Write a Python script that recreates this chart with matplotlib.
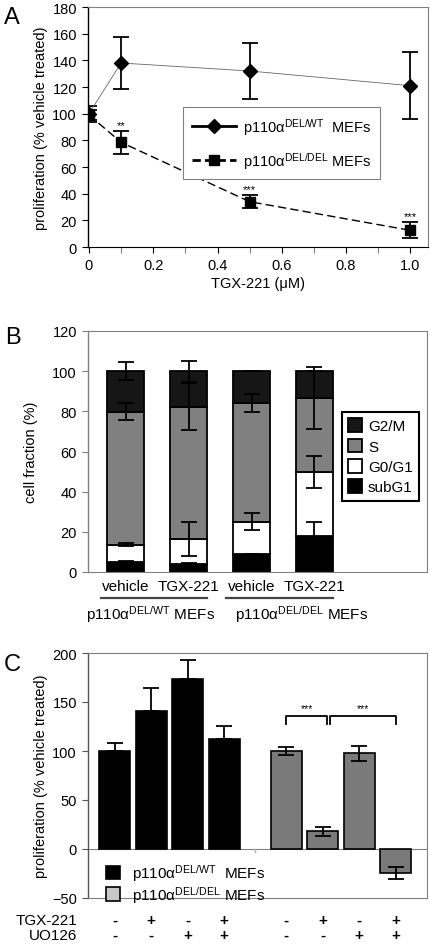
import matplotlib
matplotlib.use("Agg")
import matplotlib.pyplot as plt
import matplotlib.transforms as mtransforms
from matplotlib.lines import Line2D
from matplotlib.patches import Patch
import numpy as np

plt.rcParams['font.family'] = ['Liberation Sans', 'DejaVu Sans']
plt.rcParams['font.size'] = 10.5
plt.rcParams['mathtext.fontset'] = 'custom'
plt.rcParams['mathtext.rm'] = 'Liberation Sans'
plt.rcParams['mathtext.it'] = 'Liberation Sans:italic'

WT = r'p110α$^{\mathrm{DEL/WT}}$'
DD = r'p110α$^{\mathrm{DEL/DEL}}$'

# --- panel A data
doseA = [0, 0.1, 0.5, 1.0]
wtA = [100, 138, 132, 121]
wtA_err = [6, 19.5, 21, 25]
delA = [99, 78.5, 34, 12.5]
delA_err = [4, 8.5, 5, 6]
delA_sig = ['', '**', '***', '***']

# --- panel B data
groupsB = ['vehicle', 'TGX-221', 'vehicle', 'TGX-221']
phases = ['subG1', 'G0/G1', 'S', 'G2/M']
subG1 = [5.0, 4.1, 9.0, 17.9]
g0g1 = [8.6, 12.3, 16.0, 31.9]
s_ph = [66.3, 65.9, 59.2, 36.8]
g2m = [20.1, 17.7, 15.8, 13.4]
subG1_err = [0.4, 0.4, 0.0, 7.0]
g0g1_err = [0.6, 8.3, 4.2, 7.9]
s_err = [4.3, 11.8, 4.4, 15.3]
g2m_err = [4.5, 5.2, 0.0, 0.0]
phase_colors = ['black', 'white', '#808080', '#161616']

# --- panel C data
tgx = ['-', '+', '-', '+', '-', '+', '-', '+']
uo = ['-', '-', '+', '+', '-', '-', '+', '+']
wtC = [100, 141, 173.5, 112]
wtC_err = [8.5, 23, 19.5, 13.5]
delC = [100, 18, 97.5, -24.5]
delC_err = [4.5, 4.7, 8, 6.3]

fig = plt.figure(figsize=(4.3, 9.45), dpi=100)
W, H = 430.0, 945.0


def ax_at(l, t, r, b):
    return fig.add_axes([l / W, 1 - b / H, (r - l) / W, (b - t) / H])


def frame(ax, left_col):
    for sp in ['top', 'right', 'bottom']:
        ax.spines[sp].set_color('#808080')
        ax.spines[sp].set_linewidth(0.8)
    ax.spines['left'].set_color(left_col)
    ax.spines['left'].set_linewidth(1.0)


# ================= A
axA = ax_at(88, 8, 428, 248)
axA.errorbar(doseA, wtA, yerr=wtA_err, color='black', lw=0.6, marker='D', ms=7,
             capsize=5.5, elinewidth=1.3, capthick=1.3, zorder=3)
axA.lines[0].set_color('#666666')
axA.lines[0].set_markerfacecolor('black')
axA.lines[0].set_markeredgecolor('black')
axA.errorbar(doseA, delA, yerr=delA_err, color='black', lw=1.0, ls=(0, (6, 3)),
             marker='s', ms=7, capsize=5.5, elinewidth=1.3, capthick=1.3, zorder=3)
for x, y, e, t in zip(doseA, delA, delA_err, delA_sig):
    axA.text(x, y + e + 1, t, ha='center', va='bottom', fontsize=8)
axA.set_xlim(-0.003, 1.055)
axA.set_ylim(0, 180)
axA.set_yticks(np.arange(0, 181, 20))
axA.set_xticks([0, 0.2, 0.4, 0.6, 0.8, 1.0])
axA.set_xticklabels(['0', '0.2', '0.4', '0.6', '0.8', '1.0'])
axA.set_xticks(np.arange(0.1, 1.0, 0.2), minor=True)
axA.tick_params(axis='both', direction='out', length=4, width=0.8, pad=4)
axA.tick_params(axis='x', which='minor', length=4, width=0.8, color='#808080')
frame(axA, 'black')
axA.spines['bottom'].set_color('black')
axA.set_xlabel('TGX-221 (μM)', labelpad=3)
axA.set_ylabel('proliferation (% vehicle treated)', labelpad=3)
hA = [Line2D([], [], color='black', lw=2, marker='D', ms=7),
      Line2D([], [], color='black', lw=2, ls=(0, (3, 1.5)), marker='s', ms=7)]
legA = axA.legend(hA, [WT + '  MEFs', DD + ' MEFs'], loc='upper left',
                  bbox_to_anchor=(183 / W, 1 - 108 / H), bbox_transform=fig.transFigure,
                  borderaxespad=0, fancybox=False, framealpha=1, edgecolor='#808080',
                  handlelength=3.0, handletextpad=0.5, fontsize=10.5, borderpad=0.6,
                  labelspacing=0.9)
legA.get_frame().set_linewidth(0.8)
fig.text(4 / W, 1 - 18 / H, 'A', fontsize=17, va='center')

# ================= B
axB = ax_at(88, 332, 427, 573)
xB = np.arange(4)
bottom = np.zeros(4)
segs = [subG1, g0g1, s_ph, g2m]
errs = [subG1_err, g0g1_err, s_err, g2m_err]
for seg, err, col, lab in zip(segs, errs, phase_colors, phases):
    axB.bar(xB, seg, 0.58, bottom=bottom, color=col, edgecolor='black', lw=1.3, label=lab)
    top = bottom + np.array(seg)
    axB.errorbar(xB, top, yerr=err, fmt='none', ecolor='black', elinewidth=1.3,
                 capsize=6, capthick=1.3, zorder=4)
    bottom = top
axB.set_xlim(-0.6, 4.79)
axB.set_ylim(0, 120)
axB.set_yticks(np.arange(0, 121, 20))
axB.set_xticks(xB)
axB.set_xticklabels(groupsB, fontsize=11)
axB.tick_params(axis='x', length=0, pad=5)
axB.tick_params(axis='y', direction='out', length=4, width=0.8, color='#808080', pad=4)
frame(axB, '#808080')
axB.set_ylabel('cell fraction (%)', labelpad=10)
hb = axB.get_legend_handles_labels()
legB = axB.legend(hb[0][::-1], hb[1][::-1], loc='upper left',
                  bbox_to_anchor=(342 / W, 1 - 413 / H), bbox_transform=fig.transFigure,
                  borderaxespad=0, fancybox=False, framealpha=1, edgecolor='black',
                  handlelength=0.9, handleheight=1.0, handletextpad=0.4, fontsize=11,
                  labelspacing=0.35, borderpad=0.4)
legB.get_frame().set_linewidth(1.5)
trB = mtransforms.blended_transform_factory(axB.transData, fig.transFigure)
for i in [0, 2]:
    axB.plot([xB[i] - 0.4, xB[i + 1] + 0.3], [1 - 599 / H] * 2, color='#444444', lw=1.6,
             transform=trB, clip_on=False)
axB.text(xB[0] + 0.4, 1 - 615 / H, WT + ' MEFs', transform=trB, ha='center', va='center',
         fontsize=11)
axB.text(xB[2] + 0.8, 1 - 615 / H, DD + ' MEFs', transform=trB, ha='center', va='center',
         fontsize=11)
fig.text(5 / W, 1 - 338 / H, 'B', fontsize=17, va='center')

# ================= C
axC = ax_at(88, 654, 427, 899)
xC = np.array([0, 1, 2, 3, 4.7, 5.7, 6.7, 7.7])
axC.bar(xC[:4], wtC, 0.85, color='black', edgecolor='black', lw=1.2, zorder=3)
axC.bar(xC[4:], delC, 0.85, color='#7a7a7a', edgecolor='black', lw=1.2, zorder=3)
axC.errorbar(xC[:4], wtC, yerr=[[0] * 4, wtC_err], fmt='none', ecolor='black',
             elinewidth=1.3, capsize=5.5, capthick=1.3, zorder=4)
axC.errorbar(xC[4:], delC, yerr=delC_err, fmt='none', ecolor='black',
             elinewidth=1.3, capsize=5.5, capthick=1.3, zorder=4)
axC.axhline(0, color='#808080', lw=0.8, zorder=2)
mid = (xC[3] + xC[4]) / 2
axC.plot([mid, mid], [0, -3], color='#b0b0b0', lw=1.0)
# significance brackets
for a, b in [(xC[4], xC[5] + 0.12), (xC[5] + 0.2, xC[7])]:
    axC.plot([a, a, b, b], [127.5, 135.5, 135.5, 127.5], color='black', lw=1.3)
    axC.text((a + b) / 2, 139, '***', ha='center', va='bottom', fontsize=7.5)
axC.set_xlim(-0.73, 8.56)
axC.set_ylim(-50, 200)
axC.set_yticks([-50, 0, 50, 100, 150, 200])
axC.set_xticks([])
axC.tick_params(axis='y', direction='out', length=4, width=0.8, color='#555555', pad=4)
frame(axC, '#555555')
axC.set_ylabel('proliferation (% vehicle treated)', labelpad=3)
hC = [Patch(facecolor='black', edgecolor='black', lw=1.2),
      Patch(facecolor='#c8c8c8', edgecolor='black', lw=1.2)]
axC.legend(hC, [WT + '  MEFs', DD + ' MEFs'], loc='upper left',
           bbox_to_anchor=(100 / W, 1 - 857 / H), bbox_transform=fig.transFigure,
           borderaxespad=0, frameon=False, handlelength=0.9, handleheight=1.0,
           handletextpad=0.8, labelspacing=0.05, fontsize=11)
trC = mtransforms.blended_transform_factory(axC.transData, fig.transFigure)
fig.text(77 / W, 1 - 921 / H, 'TGX-221', ha='right', va='center', fontsize=11)
fig.text(77 / W, 1 - 936 / H, 'UO126', ha='right', va='center', fontsize=11)
for x, a, b in zip(xC, tgx, uo):
    axC.text(x, 1 - 921 / H, a, transform=trC, ha='center', va='center', fontsize=11,
             fontweight='bold')
    axC.text(x, 1 - 936 / H, b, transform=trC, ha='center', va='center', fontsize=11,
             fontweight='bold')
fig.text(4 / W, 1 - 665 / H, 'C', fontsize=17, va='center')

fig.savefig('out.png', dpi=100)
